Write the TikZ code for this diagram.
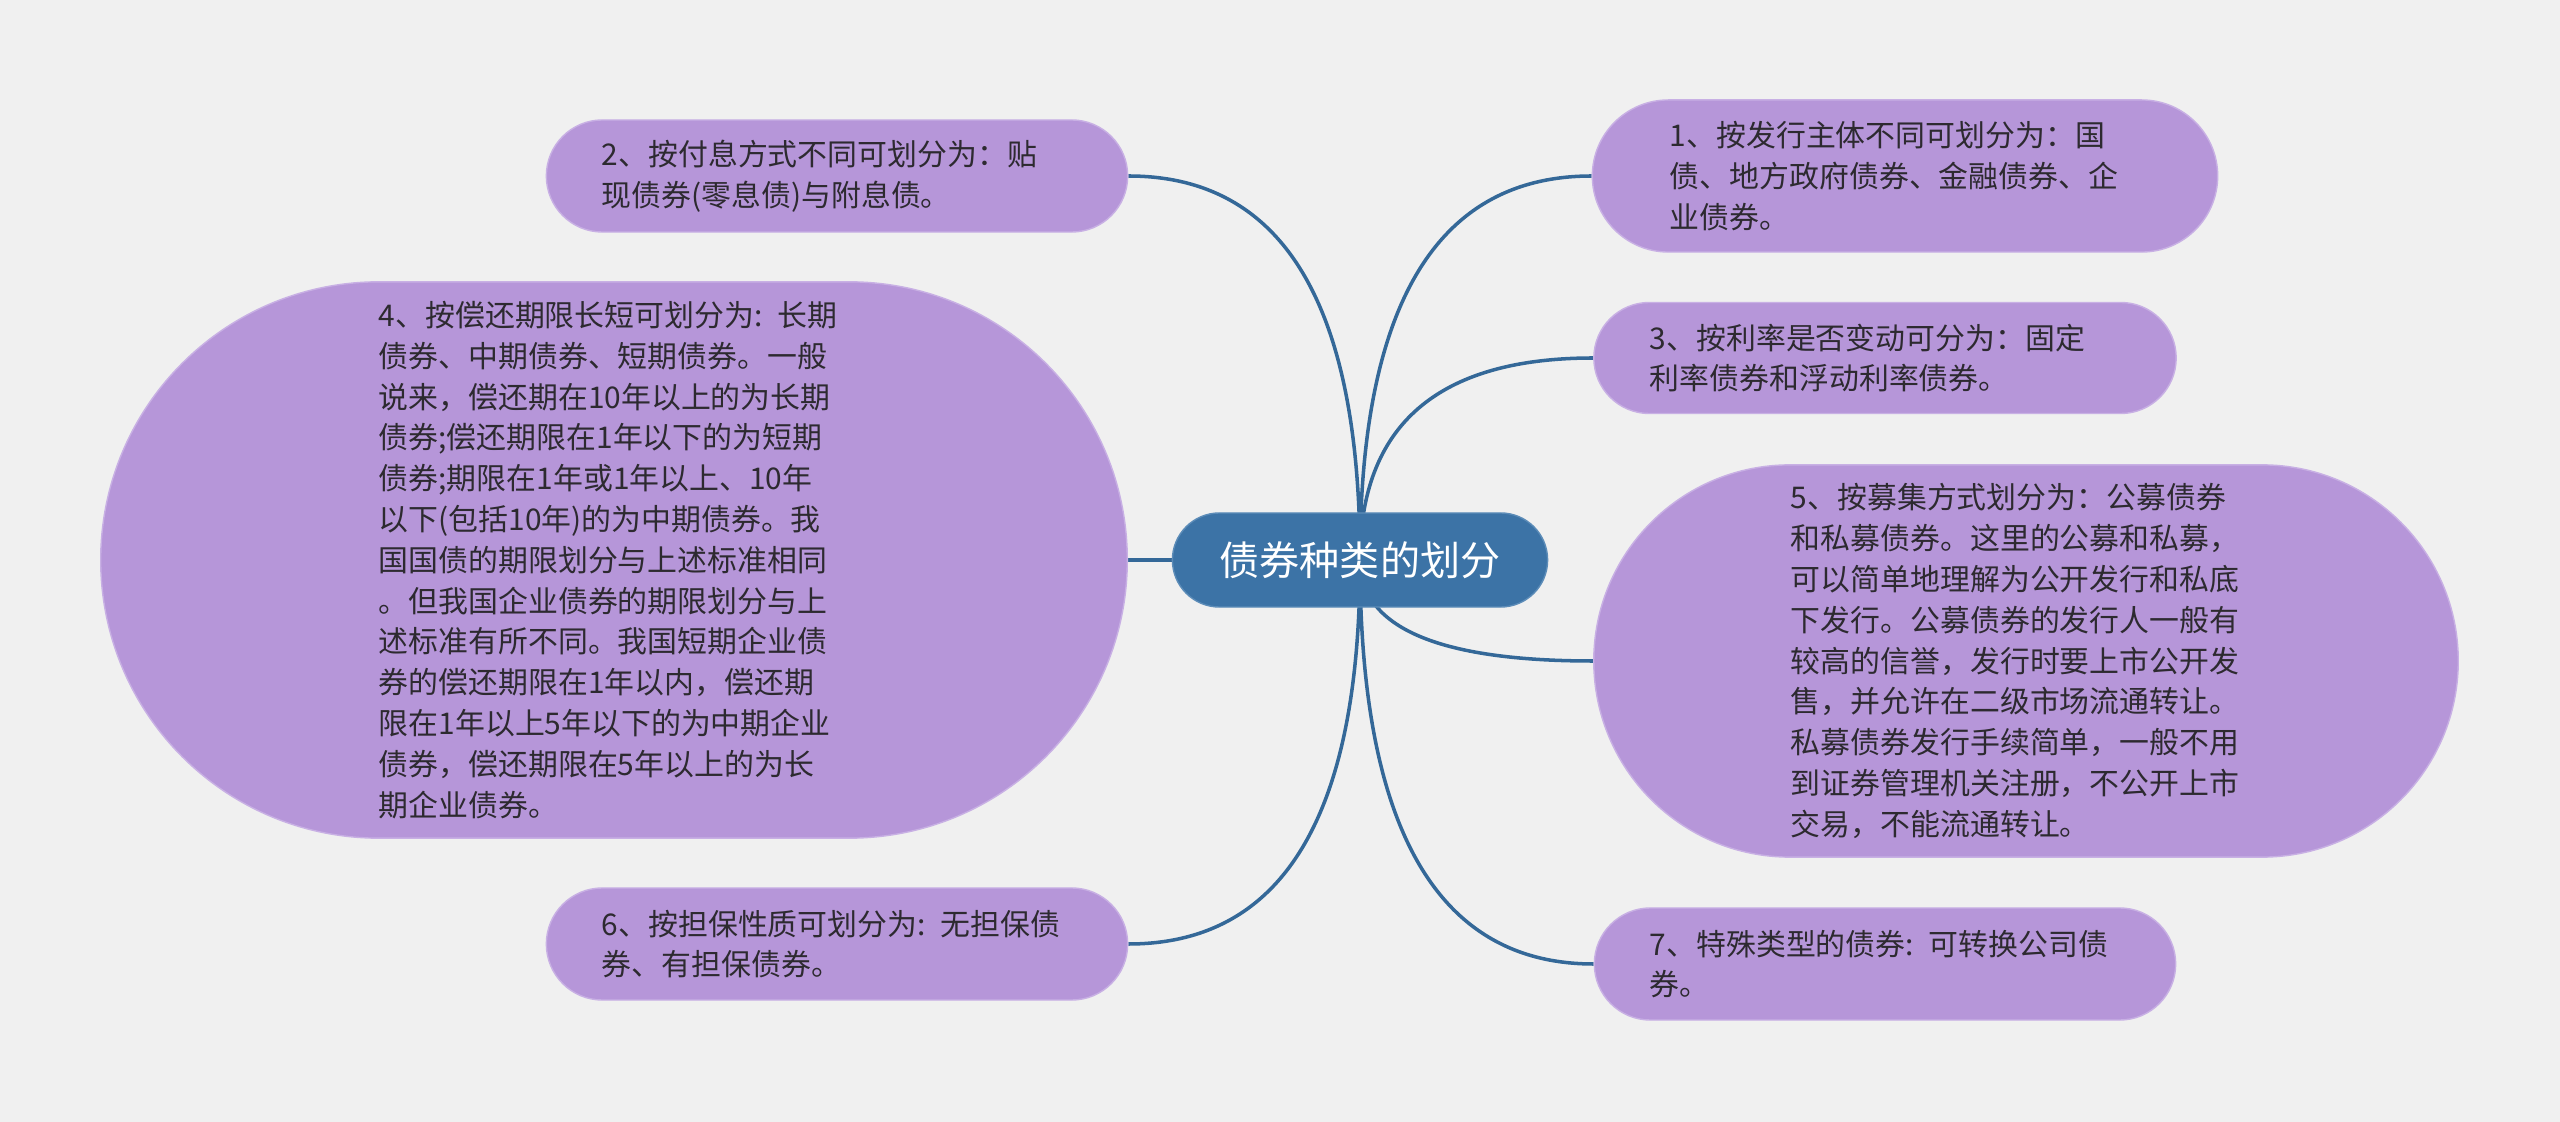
\documentclass[tikz,border=0pt]{standalone}
\usepackage{fontspec}
\usepackage{tikz}
\usetikzlibrary{calc}
\newfontfamily\cjk{Noto Sans CJK SC}
\definecolor{pagegray}{RGB}{240,240,240}
\definecolor{rootblue}{RGB}{60,115,166}
\definecolor{rootedge}{RGB}{92,140,184}
\definecolor{linkblue}{RGB}{52,104,152}
\definecolor{leaflilac}{RGB}{182,150,217}
\definecolor{leafedge}{RGB}{200,176,228}
\definecolor{inkgray}{RGB}{45,42,48}
\pgfdeclarelayer{bg}
\pgfsetlayers{bg,main}

\tikzset{
  rootbox/.style={draw=rootedge, fill=rootblue, text=white, inner sep=0pt,
    minimum width=3.75cm, minimum height=0.94cm, rounded corners=0.47cm,
    font=\cjk\fontsize{11.4pt}{14pt}\selectfont},
  leafbox/.style={draw=leafedge, fill=leaflilac, text=inkgray, inner sep=0pt,
    text width=4.7cm, align=left,
    font=\cjk\fontsize{8.5pt}{11.6pt}\selectfont},
  link/.style={draw=linkblue, line width=1pt}
}

\begin{document}
\begin{tikzpicture}[x=0.01cm, y=-0.01cm]
\useasboundingbox (0,0) rectangle (2560,1122);
% centre topic
\node[rootbox] (root) at (1360,560) {债券种类的划分};
% right side
\node[leafbox, minimum width=6.25cm, minimum height=1.52cm, rounded corners=0.76cm] (n1) at (1905,176)
  {1、按发行主体不同可划分为：国\\债、地方政府债券、金融债券、企\\业债券。};
\node[leafbox, minimum width=5.82cm, minimum height=1.11cm, rounded corners=0.555cm] (n3) at (1885,358)
  {3、按利率是否变动可分为：固定\\利率债券和浮动利率债券。};
\node[leafbox, minimum width=8.64cm, minimum height=3.92cm, rounded corners=1.96cm] (n5) at (2026,661)
  {5、按募集方式划分为：公募债券\\和私募债券。这里的公募和私募，\\可以简单地理解为公开发行和私底\\下发行。公募债券的发行人一般有\\较高的信誉，发行时要上市公开发\\售，并允许在二级市场流通转让。\\私募债券发行手续简单，一般不用\\到证券管理机关注册，不公开上市\\交易，不能流通转让。};
\node[leafbox, minimum width=5.81cm, minimum height=1.12cm, rounded corners=0.56cm] (n7) at (1885,964)
  {7、特殊类型的债券: 可转换公司债\\券。};
% left side
\node[leafbox, minimum width=5.81cm, minimum height=1.12cm, rounded corners=0.56cm] (n2) at (837,176)
  {2、按付息方式不同可划分为：贴\\现债券(零息债)与附息债。};
\node[leafbox, minimum width=10.26cm, minimum height=5.56cm, rounded corners=2.78cm] (n4) at (614,560)
  {4、按偿还期限长短可划分为: 长期\\债券、中期债券、短期债券。一般\\说来，偿还期在10年以上的为长期\\债券;偿还期限在1年以下的为短期\\债券;期限在1年或1年以上、10年\\以下(包括10年)的为中期债券。我\\国国债的期限划分与上述标准相同\\。但我国企业债券的期限划分与上\\述标准有所不同。我国短期企业债\\券的偿还期限在1年以内，偿还期\\限在1年以上5年以下的为中期企业\\债券，偿还期限在5年以上的为长\\期企业债券。};
\node[leafbox, minimum width=5.81cm, minimum height=1.12cm, rounded corners=0.56cm] (n6) at (837,944)
  {6、按担保性质可划分为: 无担保债\\券、有担保债券。};

\begin{pgfonlayer}{bg}
\fill[pagegray] (0,0) rectangle (2560,1122);
% branches
\foreach \leaf/\side in {n1/west,n2/east,n3/west,n5/west,n6/east,n7/west}{
  \coordinate (bend) at (root.center |- \leaf.\side);
  \draw[link] (root.center) .. controls ($(root.center)!0.667!(bend)$) and ($(\leaf.\side)!0.667!(bend)$) .. (\leaf.\side);
}
\draw[link] (root.center) -- (n4.east);
\end{pgfonlayer}
\end{tikzpicture}
\end{document}
